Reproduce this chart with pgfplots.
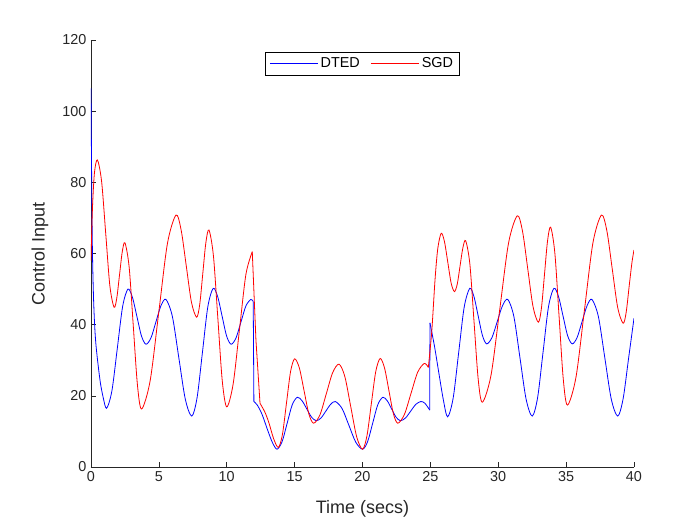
\documentclass[border=0pt]{standalone}
\usepackage{pgfplots}
\pgfplotsset{compat=1.18}
\usepackage{fontspec}
\setmainfont{Liberation Sans}
\definecolor{axgray}{gray}{0.15}
\begin{document}
\begin{tikzpicture}
\path[use as bounding box] (-68.25pt,-43.5pt) rectangle (456.75pt,350.25pt);
\begin{axis}[
 at={(0pt,0pt)}, anchor=south west,
 width=407.25pt, height=320.25pt, scale only axis,
 xmin=0, xmax=40, ymin=0, ymax=120,
 xtick={0,5,...,40}, ytick={0,20,...,120},
 axis x line*=bottom, axis y line*=left,
 tick align=inside, major tick length=4pt,
 axis line style={axgray, line width=0.5pt},
 tick style={axgray, line width=0.5pt},
 every tick label/.append style={font=\fontsize{10.8}{13}\selectfont, text=axgray},
 /pgf/number format/assume math mode=true,
 xlabel={Time (secs)}, ylabel={Control Input},
 label style={font=\fontsize{13.5}{16}\selectfont, text=axgray},
 xlabel style={at={(axis description cs:0.5,-0.098)}, anchor=center},
 ylabel style={at={(axis description cs:-0.094,0.5)}, anchor=center},
 legend style={at={(0.5,0.972)}, anchor=north, legend columns=2, line width=0.5pt,
   font=\fontsize{10.8}{13}\selectfont, text=black, /tikz/every even column/.append style={column sep=6pt}},
 legend image post style={xscale=2.1},
 every axis plot/.append style={line width=0.6pt},
]
% DTED (blue)
\addplot[color=blue, smooth] coordinates {(0,106.4) (0.04,85) (0.1,62) (0.2,46) (0.35,35) (0.66,24.5) (0.9,19.5) (1.15,16.5)
 (1.54,21.4) (1.935,33.25) (2.33,45.1) (2.72,50.0)
 (3.05,47.7) (3.385,42.25) (3.72,36.8) (4.05,34.5)
 (4.42,36.3) (4.785,40.8) (5.15,45.3) (5.52,47.1)
 (5.995,42.3) (6.47,30.7) (6.945,19.1) (7.42,14.3)
 (7.815,19.5) (8.21,32.25) (8.605,45.0) (9.0,50.2)
 (9.33,47.9) (9.66,42.35) (9.99,36.8) (10.32,34.5)
 (10.685,36.3) (11.05,40.8) (11.415,45.3) (11.78,47.1) (11.95,46.5)};
\addlegendentry{DTED}
% SGD (red)
\addplot[color=red, smooth] coordinates {(0,58) (0.1,72) (0.25,82.5) (0.47,86.3)
 (0.78,80.3) (1.085,65.6) (1.39,50.9) (1.7,44.9)
 (1.9,47.5) (2.1,53.95) (2.3,60.4) (2.5,63.0)
 (2.81,56.2) (3.115,39.65) (3.42,23.1) (3.73,16.3)
 (4.36,24.3) (4.995,43.55) (5.63,62.8) (6.26,70.8)
 (6.64,66.6) (7.02,56.45) (7.40,46.3) (7.78,42.1)
 (8.01,45.7) (8.235,54.35) (8.46,63.0) (8.69,66.6)
 (9.02,59.3) (9.345,41.75) (9.67,24.2) (10.0,16.9)
 (10.47,23.3) (10.94,38.7) (11.41,54.1) (11.88,60.5)};
\addlegendentry{SGD}
\addplot[color=blue, forget plot] coordinates {(11.95,46.5) (12.0,18.4)};
\addplot[color=blue, smooth, forget plot] coordinates {(12.0,18.4) (12.25,17.4) (12.6,14.8) (13.0,10.5) (13.35,7.0) (13.7,5.0)
 (14.075,7.1) (14.45,12.3) (14.825,17.5) (15.2,19.6)
 (15.55,18.6) (15.9,16.3) (16.25,14.0) (16.6,13.0)
 (16.95,13.8) (17.3,15.7) (17.65,17.6) (18.0,18.4)
 (18.5,16.4) (19.0,11.7) (19.5,7.0) (20.0,5.0)
 (20.375,7.1) (20.75,12.3) (21.125,17.5) (21.5,19.6)
 (21.825,18.6) (22.15,16.3) (22.475,14.0) (22.8,13.0)
 (23.175,13.8) (23.55,15.7) (23.925,17.6) (24.3,18.4)
 (24.6,17.9) (24.95,16.0)};
\addplot[color=blue, forget plot] coordinates {(24.95,16.0) (24.97,40.5)};
\addplot[color=blue, smooth, forget plot] coordinates {(24.97,40.5) (25.3,34) (25.6,27) (25.95,19) (26.27,14.1)
 (26.68,19.4) (27.085,32.15) (27.49,44.9) (27.9,50.2)
 (28.21,47.9) (28.525,42.4) (28.84,36.9) (29.15,34.6)
 (29.54,36.4) (29.925,40.85) (30.31,45.3) (30.7,47.1)
 (31.15,42.3) (31.6,30.7) (32.05,19.1) (32.5,14.3)
 (32.9,19.5) (33.3,32.25) (33.7,45.0) (34.1,50.2)
 (34.44,47.9) (34.775,42.4) (35.11,36.9) (35.45,34.6)
 (35.81,36.4) (36.175,40.85) (36.54,45.3) (36.9,47.1)
 (37.375,42.3) (37.85,30.7) (38.325,19.1) (38.8,14.3)
 (39.2,19.2) (39.6,30.5) (40.0,41.8)};
\addplot[color=red, forget plot] coordinates {(11.88,60.5) (12.15,35.7) (12.45,17.9)};
\addplot[color=red, smooth, forget plot] coordinates {(12.45,17.9) (12.8,15.5) (13.1,12.5) (13.45,8.0) (13.8,5.5)
 (14.1,9.1) (14.4,17.95) (14.7,26.8) (15.0,30.4)
 (15.35,27.8) (15.7,21.35) (16.05,14.9) (16.4,12.3)
 (16.87,14.7) (17.335,20.6) (17.8,26.5) (18.27,28.9)
 (18.7,25.4) (19.135,16.95) (19.57,8.5) (20.0,5.0)
 (20.325,8.7) (20.65,17.75) (20.975,26.8) (21.3,30.5)
 (21.625,27.8) (21.95,21.4) (22.275,15.0) (22.6,12.3)
 (23.09,14.8) (23.575,20.7) (24.06,26.6) (24.55,29.1) (24.85,28.0)};
\addplot[color=red, smooth, forget plot] coordinates {(24.85,28.0) (25.1,38) (25.35,53) (25.55,61.5) (25.8,65.7)
 (26.04,63.3) (26.285,57.5) (26.53,51.7) (26.77,49.3)
 (26.98,51.4) (27.185,56.45) (27.39,61.5) (27.6,63.6)
 (27.91,57.0) (28.215,40.9) (28.52,24.8) (28.83,18.2)
 (29.47,25.85) (30.115,44.4) (30.76,62.95) (31.4,70.6)
 (31.79,66.2) (32.175,55.65) (32.56,45.1) (32.95,40.7)
 (33.18,44.6) (33.405,54.05) (33.63,63.5) (33.86,67.4)
 (34.17,60.1) (34.48,42.4) (34.79,24.7) (35.1,17.4)
 (35.725,25.2) (36.35,44.1) (36.975,63.0) (37.6,70.8)
 (38.0,66.4) (38.4,55.6) (38.8,44.8) (39.2,40.4)
 (39.425,43.5) (39.65,51) (39.85,57.5) (40.0,61)};
\end{axis}
\end{tikzpicture}
\end{document}
